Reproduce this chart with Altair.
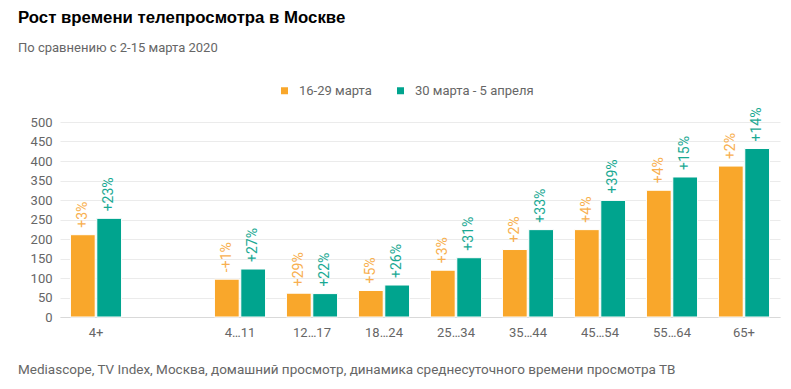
import altair as alt
import pandas as pd

categories = ["4+", " ", "4…11", "12…17", "18…24", "25…34", "35…44", "45…54", "55…64", "65+"]
bar_categories = ["4+", "4…11", "12…17", "18…24", "25…34", "35…44", "45…54", "55…64", "65+"]
series = ["16-29 марта", "30 марта - 5 апреля"]
values_a = [211, 97, 61, 68, 120, 173, 224, 325, 387]
values_b = [253, 123, 60, 82, 152, 224, 299, 359, 432]
labels_a = ["+3%", "-+1%", "+29%", "+5%", "+3%", "+2%", "+4%", "+4%", "+2%"]
labels_b = ["+23%", "+27%", "+22%", "+26%", "+31%", "+33%", "+39%", "+15%", "+14%"]
y_ticks = list(range(0, 501, 50))

TITLE = "Рост времени телепросмотра в Москве"
SUBTITLE = "По сравнению с 2-15 марта 2020"
FOOTER = "Mediascope, TV Index, Москва, домашний просмотр, динамика среднесуточного времени просмотра ТВ"

bar_colors = ["#F9A72B", "#00A48E"]
label_colors = ["#F8B050", "#1AA993"]

rows = []
for c, va, vb, la, lb in zip(bar_categories, values_a, values_b, labels_a, labels_b):
    rows.append({"cat": c, "series": series[0], "value": va, "label": la, "tcolor": label_colors[0]})
    rows.append({"cat": c, "series": series[1], "value": vb, "label": lb, "tcolor": label_colors[1]})
df = pd.DataFrame(rows)

FONT = "Roboto"

x_enc = alt.X("cat:N", scale=alt.Scale(domain=categories, paddingInner=0.29, paddingOuter=0.145),
              axis=alt.Axis(title=None, labelAngle=0, ticks=False, domainColor="#d9d9d9",
                            labelPadding=9, labelFontSize=13, labelColor="#666666", labelFont=FONT))
xo_enc = alt.XOffset("series:N", scale=alt.Scale(domain=series, paddingInner=0.06))
y_enc = alt.Y("value:Q", scale=alt.Scale(domain=[0, 500], nice=False),
              axis=alt.Axis(title=None, values=y_ticks, domain=False, ticks=False, gridColor="#ebebeb",
                            labelPadding=8, labelFontSize=13, labelColor="#666666", labelFont=FONT))

bars = alt.Chart(df).mark_bar(stroke="white", strokeWidth=1).encode(
    x=x_enc, xOffset=xo_enc, y=y_enc,
    color=alt.Color("series:N", scale=alt.Scale(domain=series, range=bar_colors),
                    legend=alt.Legend(title=None, orient="none", legendX=218, legendY=-38,
                                      direction="horizontal", symbolType="square", symbolSize=49,
                                      symbolStrokeWidth=0, labelFontSize=13, labelColor="#666666",
                                      labelFont=FONT, columnPadding=22, labelOffset=8)),
)

texts = alt.Chart(df).mark_text(angle=270, align="left", baseline="middle", dx=7,
                                fontSize=14, font=FONT).encode(
    x=x_enc, xOffset=xo_enc, y=y_enc,
    text="label:N",
    color=alt.Color("tcolor:N", scale=None),
)

def text_layer(t, x, y, size, color, weight="normal", font=FONT):
    return alt.Chart(pd.DataFrame({"t": [t]})).mark_text(
        align="left", baseline="middle", fontSize=size, fontWeight=weight, font=font, color=color
    ).encode(x=alt.value(x), y=alt.value(y), text="t:N")

title = text_layer(TITLE, -42, -104, 16.8, "#000000", "bold", "Liberation Sans")
subtitle = text_layer(SUBTITLE, -42, -74, 13, "#666666")
footer = text_layer(FOOTER, -42, 248, 13.5, "#666666")

chart = alt.layer(bars, texts, title, subtitle, footer).resolve_scale(color="independent").properties(
    width=720, height=195,
    autosize=alt.AutoSizeParams(type="none"),
    padding={"left": 52, "top": 114, "right": 3, "bottom": 63},
).configure_view(stroke=None)

chart.save("out.html", embed_options={"renderer": "svg", "actions": False})
